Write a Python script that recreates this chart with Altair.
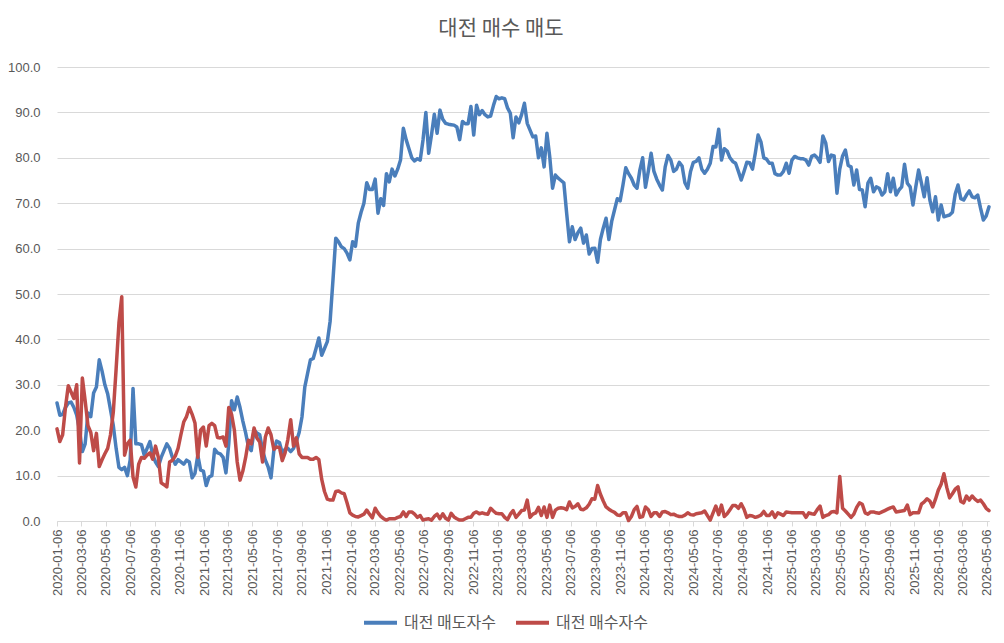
import altair as alt
import pandas as pd

TITLE = "대전 매수 매도"
SERIES = ["대전 매도자수", "대전 매수자수"]
COLORS = ["#4A7EBB", "#BE4B48"]
START = "2020-01-06"

# 대전 매도자수 (weekly, from 2020-01-06)
SELL = [
    26, 23.3, 23.5, 25, 26, 26.2, 25, 23.3, 20, 15.3,
    17, 23.8, 23, 28.2, 29.5, 35.5, 33, 30, 28, 24.5,
    21, 16, 11.8, 11.3, 11.8, 10, 13.5, 29.2, 17, 17,
    16.8, 14.5, 16, 17.5, 14.5, 13, 12, 14, 15.5, 17,
    16, 14, 12.5, 13.5, 13, 12.5, 13.4, 13, 9.5, 10.5,
    14.5, 11.2, 11, 7.8, 9.7, 10, 15.8, 15, 14.8, 14,
    10.6, 17, 26.5, 24.5, 27.3, 25, 22, 19.4, 16.3, 15.5,
    20, 19.4, 19, 15.6, 13.4, 11.9, 9.5, 15.5, 17.6, 17.3,
    15, 15.8, 16, 15.3, 16, 17.5, 19.5, 22.9, 29.5, 32.5,
    35.5, 35.8, 38, 40.3, 36.5, 38, 39.5, 44, 53, 62.3,
    61.5, 60.4, 60, 59, 57.5, 61.5, 60.5, 65.6, 68, 70,
    74.5, 73, 73, 75.3, 67.8, 71, 69.5, 76.5, 74.7, 77.5,
    76, 77.5, 79.5, 86.5, 84, 82, 80, 79.3, 79.8, 79.5,
    84, 90, 81, 85, 89.6, 85.4, 90.5, 88.5, 87.6, 87.4,
    87.3, 87.2, 86.8, 84, 88, 87.5, 87.5, 91.3, 85, 91.6,
    89.5, 90.4, 89.5, 89, 89.2, 91.5, 93.5, 93, 93.2, 93,
    91, 89.8, 84.4, 89, 87.7, 89.5, 92, 87.6, 86.1, 84.6,
    84.8, 80, 82.2, 78, 85.4, 80.2, 73.3, 76.2, 75.5, 75,
    74.5, 67.8, 61.5, 64.8, 62, 63.5, 64.5, 61.2, 63, 58.8,
    60, 60.1, 57, 62, 64.5, 66.7, 62, 66, 68.5, 71,
    70.5, 74, 77.8, 76.5, 75.5, 74, 73.3, 77.3, 80, 73.5,
    77, 81, 77, 75.3, 74, 72.9, 78, 80.5, 79.5, 77,
    77.5, 79, 78.2, 74.5, 73.3, 77, 79, 79.2, 80, 77.5,
    76.6, 77.5, 78.8, 82.5, 82.4, 86.3, 79.5, 82, 81.5, 80,
    79.2, 78.8, 77, 75.1, 77, 79, 78.9, 77.5, 81, 85,
    83.5, 80, 79.7, 78.8, 78.8, 76.5, 76.2, 76.2, 77, 78.8,
    76.6, 79.5, 80.3, 80, 79.8, 79.8, 79.5, 78.4, 80.3, 80.6,
    80, 79, 84.8, 83.3, 79.2, 80.6, 80.4, 72.2, 77.5, 80.4,
    81.7, 78.3, 78, 74, 77.3, 73, 72.9, 69.2, 74.4, 75.5,
    72.5, 73.6, 73.3, 71.8, 72.5, 76.5, 72.5, 75.5, 71.8, 72.9,
    73.6, 78.6, 74.4, 73.6, 69.6, 73.6, 77.3, 74.4, 71.4, 75.6,
    70.7, 68.1, 71.4, 66.3, 69.6, 67, 67.2, 67.4, 68, 72,
    74, 71, 70.7, 71.8, 72.7, 71.4, 71.2, 71.8, 68.9, 66.3,
    67.2, 69.2,
]

# 대전 매수자수 (weekly, from 2020-01-06)
BUY = [
    20.3, 17.5, 19, 25, 29.8, 28.4, 27, 30, 12.8, 31.5,
    26.5, 21, 19.5, 15.5, 19.3, 12, 13.5, 14.8, 16, 19,
    24, 33.5, 43.6, 49.4, 14.5, 17, 17.8, 9.7, 7.5, 12.5,
    14, 13.8, 14.5, 15, 13.6, 16.5, 14, 8.4, 8, 7.5,
    13, 13.4, 14.3, 16, 19, 21.8, 23, 25, 23.5, 21.6,
    14, 20, 20.7, 16.5, 21, 21.5, 21, 18.4, 18.3, 18.5,
    16.5, 25, 23.5, 20, 13, 9, 11, 14, 17.8, 17,
    20.5, 18.3, 17.4, 13, 18.5, 20.5, 19, 15.8, 16.3, 16.2,
    13.3, 15, 18, 22.3, 16.5, 18.3, 14.8, 14, 14, 14,
    13.6, 13.6, 14, 13.5, 9.2, 6.5, 4.8, 4.6, 4.6, 6.5,
    6.6, 6.2, 6, 4, 1.8, 1.3, 1, 0.9, 1.2, 1.5,
    2.4, 1.5, 0.7, 2.8, 1.8, 1, 0.5, 0.2, 0.5, 0.5,
    0.5, 0.8, 1, 2, 1, 2, 2, 1.5, 0.8, 1.2,
    0.2, 0.4, 0.5, 0.2, 1, 1.5, 0.5, 1.6, 0.6, 0.2,
    1.7, 0.9, 0.5, 0.2, 0.2, 0.5, 0.8, 0.8, 1.7, 2,
    1.6, 1.8, 1.6, 1.5, 2.8, 2.2, 1.7, 1.6, 1.6, 0.8,
    0.3, 1.5, 2.3, 0.8, 1.5, 2.3, 2.4, 4.6, 0.8, 1.5,
    1.8, 3.0, 1.2, 3.1, 0.8, 3.5, 0.8, 2.4, 2.8, 2.9,
    2.8, 2.5, 4.2, 2.9, 3.2, 3.8, 2.6, 2.5, 2.9, 3.7,
    4.9, 4.8, 7.8, 5.9, 4.4, 3.1, 2.6, 2.2, 1.9, 1.3,
    1.2, 1.8, 1.8, 0.1, 1, 2.5, 3.2, 0.8, 1, 3.1,
    2.5, 1, 1.8, 1.8, 1, 2, 2.1, 1.8, 1.4, 1.5,
    1.2, 1, 1, 1.3, 1.8, 1.4, 1.3, 1.6, 1.7, 1.8,
    2.2, 1.2, 0.2, 1.8, 3.3, 1.4, 3.5, 1, 1.6, 2.5,
    3.4, 3.4, 2.8, 3.8, 2.6, 0.8, 1.2, 1.1, 0.8, 1,
    1.3, 2.1, 1.2, 1.2, 2, 0.8, 1.8, 1.5, 1.2, 2,
    1.9, 1.8, 1.8, 1.8, 1.8, 1.8, 0.8, 1.8, 1.6, 1.5,
    2.5, 3.3, 0.8, 1.2, 1.4, 2, 2.1, 1.8, 9.8, 2.8,
    2.2, 1.5, 0.8, 1.5, 3, 4, 3.7, 1.8, 1.5, 2,
    2, 1.8, 1.7, 2, 2.3, 2.6, 2.9, 3.1, 2, 2.1,
    2.2, 2.3, 3.5, 1.4, 1.8, 1.8, 1.8, 3.7, 4.2, 4.9,
    4.4, 3.1, 4.8, 6.8, 8.1, 10.4, 7.4, 5.1, 6, 7,
    7.5, 4.3, 4, 5.5, 4.6, 5.5, 4.8, 4.3, 4.6, 3.8,
    2.8, 2.3,
]

TICK_DATES = [f"{y}-{m:02d}-06" for y in range(2020, 2027)
              for m in (1, 3, 5, 7, 9, 11) if (y, m) <= (2026, 5)]
Y_TICKS = [0, 10, 20, 30, 40, 50, 60, 70, 80, 90, 100]

n = min(len(SELL), len(BUY))
dates = list(pd.date_range(START, periods=n, freq="7D").strftime("%Y-%m-%d"))
df = pd.DataFrame({
    "date": dates * 2,
    "value": SELL[:n] + BUY[:n],
    "series": [SERIES[0]] * n + [SERIES[1]] * n,
})


def dt(s):
    return alt.DateTime(year=int(s[:4]), month=int(s[5:7]), date=int(s[8:10]), utc=True)


tick_vals = [dt(s) for s in TICK_DATES]
TEXT = "#595959"
GRID = "#d9d9d9"

x = alt.X(
    "date:T",
    scale=alt.Scale(type="utc", domain=[dt(dates[0]), dt(dates[-1])], nice=False),
    axis=alt.Axis(
        values=tick_vals,
        labelExpr="utcFormat(datum.value, '%Y-%m-%d')",
        labelAngle=270,
        grid=False,
        domainColor=GRID,
        tickColor=GRID,
        tickSize=5,
        labelPadding=3,
        labelFontSize=13,
        labelColor=TEXT,
        labelFont="Liberation Sans",
        labelOverlap=False,
        labelBound=False,
        title=None,
    ),
)
y = alt.Y(
    "value:Q",
    scale=alt.Scale(domain=[0, 100], nice=False),
    axis=alt.Axis(
        values=Y_TICKS,
        format=".1f",
        grid=True,
        gridColor=GRID,
        domain=False,
        ticks=False,
        labelPadding=17,
        labelFontSize=13,
        labelColor=TEXT,
        labelFont="Liberation Sans",
        title=None,
    ),
)
color = alt.Color(
    "series:N",
    scale=alt.Scale(domain=SERIES, range=COLORS),
    legend=alt.Legend(
        title=None,
        orient="none",
        legendX=305,
        legendY=537,
        direction="horizontal",
        symbolType="stroke",
        symbolSize=1089,
        symbolStrokeWidth=4,
        labelFontSize=16,
        labelFont="Noto Sans CJK KR",
        labelColor=TEXT,
        columnPadding=12,
        labelOffset=5,
    ),
)

base = alt.Chart(df).mark_line(strokeWidth=3.5, strokeJoin="round", strokeCap="round").encode(
    x=x, y=y, color=color
)
blue = base.transform_filter(alt.datum.series == SERIES[0])
red = base.transform_filter(alt.datum.series == SERIES[1])

chart = alt.layer(blue, red).properties(
    width=932,
    height=454,
    title=alt.TitleParams(
        TITLE,
        fontSize=21,
        font="Noto Sans CJK KR",
        fontWeight="normal",
        color=TEXT,
        anchor="middle",
        offset=22,
        dx=-22,
    ),
    autosize=alt.AutoSizeParams(type="none"),
    padding={"left": 49, "top": 59, "right": 7, "bottom": 114},
).configure_view(stroke=None)

chart.save("out.html", embed_options={"renderer": "svg", "actions": False})
